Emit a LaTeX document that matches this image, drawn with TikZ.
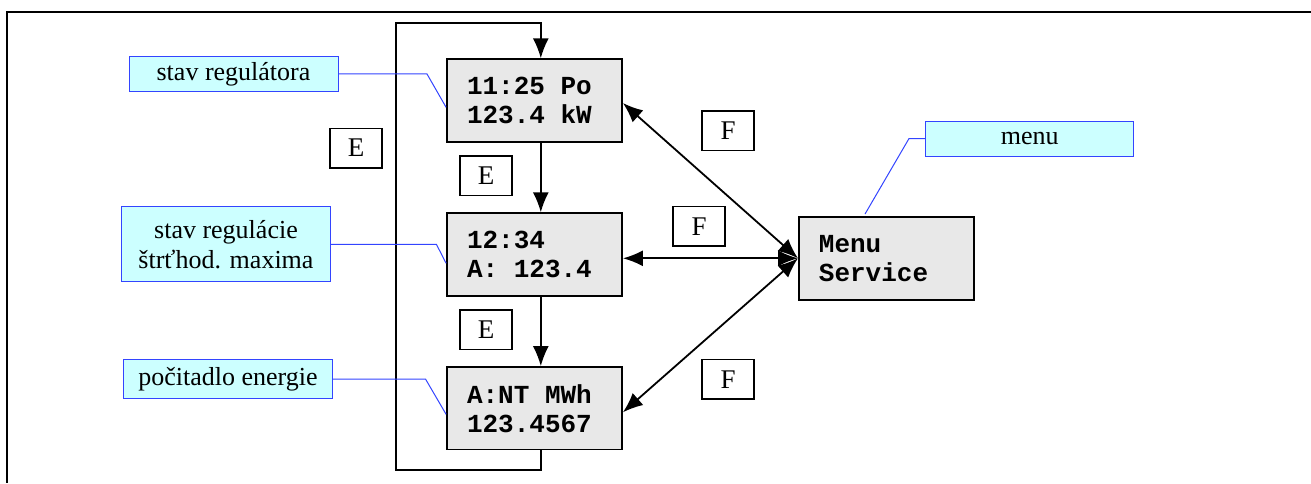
\documentclass[tikz,border=0pt]{standalone}
\usepackage{fontspec}
\setmainfont{Liberation Serif}
\setmonofont{Liberation Mono}
\usetikzlibrary{arrows.meta}
\definecolor{lblfill}{HTML}{CCFFFF}
\definecolor{lbldraw}{HTML}{3344FF}
\definecolor{boxfill}{HTML}{E8E8E8}
\newcommand\msp{\hspace*{0.6em}}
\begin{document}
\begin{tikzpicture}[x=1pt,y=-1pt,
  disp/.style={draw=black, line width=1.8pt, fill=boxfill, text width=135pt, inner xsep=20pt, inner ysep=0pt, minimum height=82.5pt, align=left, font=\fontsize{26}{29}\selectfont\ttfamily\bfseries},
  lbl/.style={draw=lbldraw, line width=1pt, fill=lblfill, inner sep=0pt, font=\fontsize{26}{30}\selectfont, align=center},
  key/.style={draw=black, line width=1.5pt, fill=white, minimum width=52pt, minimum height=39.5pt, inner sep=0pt, font=\fontsize{27}{30}\selectfont},
  flow/.style={draw=black, line width=1.8pt, -{Latex[length=20pt,width=16pt]}},
  biflow/.style={draw=black, line width=1.8pt, {Latex[length=20pt,width=16pt]}-{Latex[length=20pt,width=16pt]}},
  callout/.style={draw=lbldraw, line width=1pt}]
\useasboundingbox (0,0) rectangle (1311,483);
\draw[line width=2.5pt] (1311,12) -- (7,12) -- (7,483);

\node[disp] (b1) at (534.5,100.5) {11:25\msp Po\\123.4\msp kW};
\node[disp] (b2) at (534.5,254.5) {12:34\\A:\msp 123.4};
\node[disp] (b3) at (534.5,408.3) {A:NT\msp MWh\\123.4567};
\node[disp, minimum height=82.7pt] (m) at (886.4,258.3) {Menu\\Service};

\node[lbl, minimum width=209pt, minimum height=35pt] (l1) at (233.5,73.8) {stav regulátora};
\node[lbl, minimum width=208.6pt, minimum height=75.3pt] (l2) at (226,244.3) {stav regulácie\\štrťhod. maxima};
\node[lbl, minimum width=209pt, minimum height=39.4pt] (l3) at (228,379) {počitadlo energie};
\node[lbl, minimum width=208pt, minimum height=35pt] (l4) at (1029.7,138.7) {menu};

\node[key] (e1) at (356,148) {E};
\node[key] (e2) at (486,175.5) {E};
\node[key] (e3) at (486,329.7) {E};
\node[key] (f1) at (728,130.7) {F};
\node[key] (f2) at (699,226.4) {F};
\node[key] (f3) at (728,379.2) {F};

\coordinate (loopbl) at (395.6,470);
\coordinate (looptl) at (395.6,23.3);
\draw[flow] ([xshift=6.3pt]b3.south) |- (loopbl) -- (looptl) -| ([xshift=6.3pt]b1.north);
\draw[flow] ([xshift=6.3pt]b1.south) -- ([xshift=6.3pt]b2.north);
\draw[flow] ([xshift=6.3pt]b2.south) -- ([xshift=6.3pt]b3.north);

\draw[biflow] ([yshift=-2.5pt]b1.east) -- (m.west);
\draw[biflow] (b2.east |- m.west) -- (m.west);
\draw[biflow] ([yshift=-4pt]b3.east) -- (m.west);

\draw[callout] (l1.east) -- ++(88.4,0) -- ([yshift=-6.8pt]b1.west);
\draw[callout] (l2.east) -- ++(105.6,0) -- ([yshift=-8.8pt]b2.west);
\draw[callout] (l3.east) -- ++(92.5,0) -- ([yshift=-6pt]b3.west);
\draw[callout] (l4.west) -- ++(-16.3,0) -- ([xshift=-21.4pt,yshift=2pt]m.north);
\end{tikzpicture}
\end{document}
